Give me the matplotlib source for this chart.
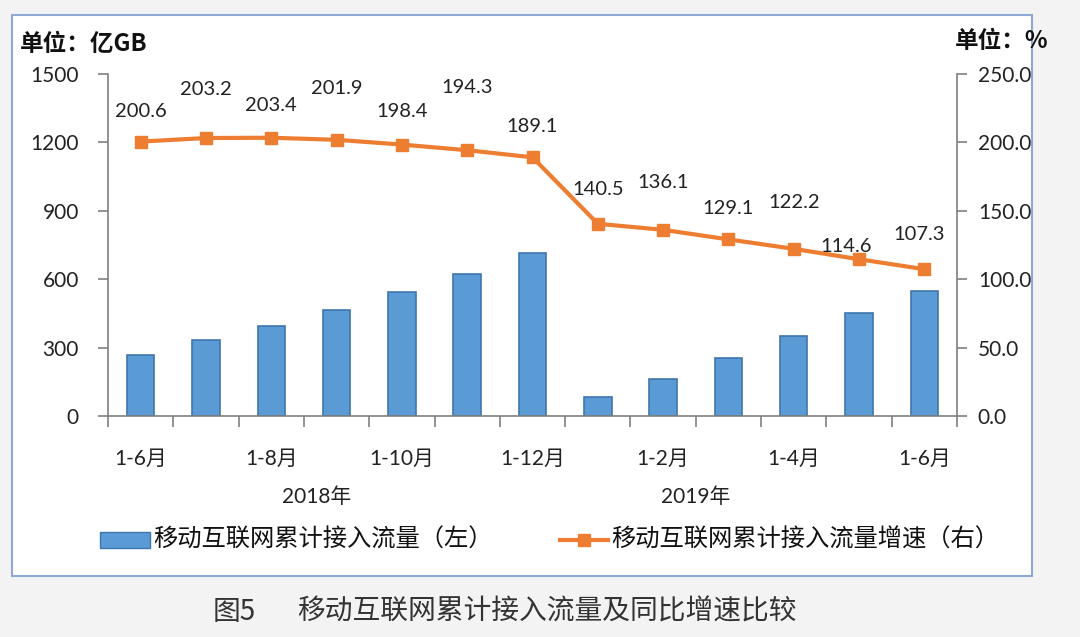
import matplotlib
matplotlib.use("Agg")
import matplotlib.pyplot as plt
from matplotlib.patches import Rectangle
from matplotlib.lines import Line2D
import matplotlib.transforms as mtrans

plt.rcParams['font.family'] = ['Lato', 'Noto Sans CJK SC', 'DejaVu Sans']
CJK = ['Noto Sans CJK SC', 'DejaVu Sans']

categories = ["1-6月", "1-7月", "1-8月", "1-9月", "1-10月", "1-11月", "1-12月",
              "1-1月", "1-2月", "1-3月", "1-4月", "1-5月", "1-6月"]
tick_labels = ["1-6月", "", "1-8月", "", "1-10月", "", "1-12月",
               "", "1-2月", "", "1-4月", "", "1-6月"]
traffic = [267, 333, 395, 465, 544, 623, 715, 83, 162, 254, 351, 452, 548]
growth = [200.6, 203.2, 203.4, 201.9, 198.4, 194.3, 189.1,
          140.5, 136.1, 129.1, 122.2, 114.6, 107.3]
years = ["2018年", "2019年"]
year_pos = [2.7, 8.5]
# label offsets (points) of each value label relative to its marker
label_dy = [22, 35, 23, 37, 24, 45, 22, 25, 34, 22, 33, 9, 25]
label_dx = [0, 0, 0, 0, 0, 0, 0, 0, 0, 0, 0, -9, -4]

fig = plt.figure(figsize=(10.8, 6.37), dpi=100)
fig.patch.set_facecolor("#f3f3f3")
fig.add_artist(Rectangle((12/1080, 1-576/637), (1032-12)/1080, (576-15)/637,
                         transform=fig.transFigure, facecolor="white",
                         edgecolor="#8fa9d4", linewidth=1.5, zorder=0))

ax = fig.add_axes([108/1080, 1-416/637, (957-108)/1080, (416-74)/637])
ax.set_facecolor("none")
x = list(range(len(categories)))
ax.bar(x, traffic, width=0.42, color="#5b9bd5", edgecolor="#3f75ad", linewidth=1.2, zorder=2)
ax.set_xlim(-0.5, len(categories)-0.5)
ax.set_ylim(0, 1500)
ax.set_yticks([0, 300, 600, 900, 1200, 1500])
ax.set_xticks([i - 0.5 for i in range(len(categories)+1)])
ax.set_xticklabels([])
ax.set_xticks(x, minor=True)
ax.set_xticklabels(tick_labels, minor=True)
ax.tick_params(axis='x', which='minor', length=0, pad=24, labelsize=15, colors="#222222")
ax.tick_params(axis='x', which='major', length=8, width=1.2, color="#7f7f7f", direction='out')
ax.tick_params(axis='y', length=7, width=1.2, color="#7f7f7f", labelsize=15,
               labelcolor="#222222", pad=14)
for s in ["top", "right"]:
    ax.spines[s].set_visible(False)
for s in ["left", "bottom"]:
    ax.spines[s].set_color("#7f7f7f")
    ax.spines[s].set_linewidth(1.2)

ax2 = ax.twinx()
ax2.plot(x, growth, color="#ed7d31", linewidth=3, marker="s", markersize=9,
         markerfacecolor="#ed7d31", markeredgecolor="#ed7d31", zorder=3)
ax2.set_ylim(0, 250)
ax2.set_yticks([0, 50, 100, 150, 200, 250])
ax2.set_yticklabels([f"{v:.1f}" for v in [0, 50, 100, 150, 200, 250]])
ax2.tick_params(axis='y', length=7, width=1.2, color="#7f7f7f", labelsize=15,
                labelcolor="#222222", pad=8)
for s in ["top", "left", "bottom"]:
    ax2.spines[s].set_visible(False)
ax2.spines["right"].set_color("#7f7f7f")
ax2.spines["right"].set_linewidth(1.2)

for xi, g, dx, dy in zip(x, growth, label_dx, label_dy):
    ax2.annotate(f"{g:.1f}", (xi, g), xytext=(dx, dy), textcoords="offset points",
                 ha="center", va="center", fontsize=14.5, color="#222222")

trans = mtrans.blended_transform_factory(ax.transData, fig.transFigure)
for yl, yp in zip(years, year_pos):
    ax.text(yp, 1-497/637, yl, transform=trans, ha="center", va="center",
            fontsize=15, color="#222222")

fig.text(20/1080, 1-44/637, "单位：亿GB", fontsize=17, fontweight="bold",
         ha="left", va="center", color="#111111", family=CJK)
fig.text(1048/1080, 1-41/637, "单位：%", fontsize=17, fontweight="bold",
         ha="right", va="center", color="#111111", family=CJK)

# legend
ly = 1-540/637
fig.add_artist(Rectangle((100/1080, ly-8/637), 50/1080, 16/637, transform=fig.transFigure,
                         facecolor="#5b9bd5", edgecolor="#3f75ad", linewidth=1))
fig.text(153/1080, ly, "移动互联网累计接入流量（左）", fontsize=17.5, ha="left", va="center",
         color="#111111", family=CJK)
fig.add_artist(Line2D([560/1080, 608/1080], [ly, ly], transform=fig.transFigure,
                      color="#ed7d31", linewidth=3))
fig.add_artist(Line2D([584/1080], [ly], transform=fig.transFigure,
                      color="#ed7d31", marker="s", markersize=9, linestyle="none"))
fig.text(611/1080, ly, "移动互联网累计接入流量增速（右）", fontsize=17.5, ha="left", va="center",
         color="#111111", family=CJK)

fig.text(213/1080, 1-612/637, "图5", fontsize=20, ha="left", va="center",
         color="#333333", family=CJK, fontweight="light")
fig.text(297/1080, 1-612/637, "移动互联网累计接入流量及同比增速比较", fontsize=20,
         ha="left", va="center", color="#333333", family=CJK, fontweight="light")

fig.savefig("out.png", dpi=100, facecolor=fig.get_facecolor())
